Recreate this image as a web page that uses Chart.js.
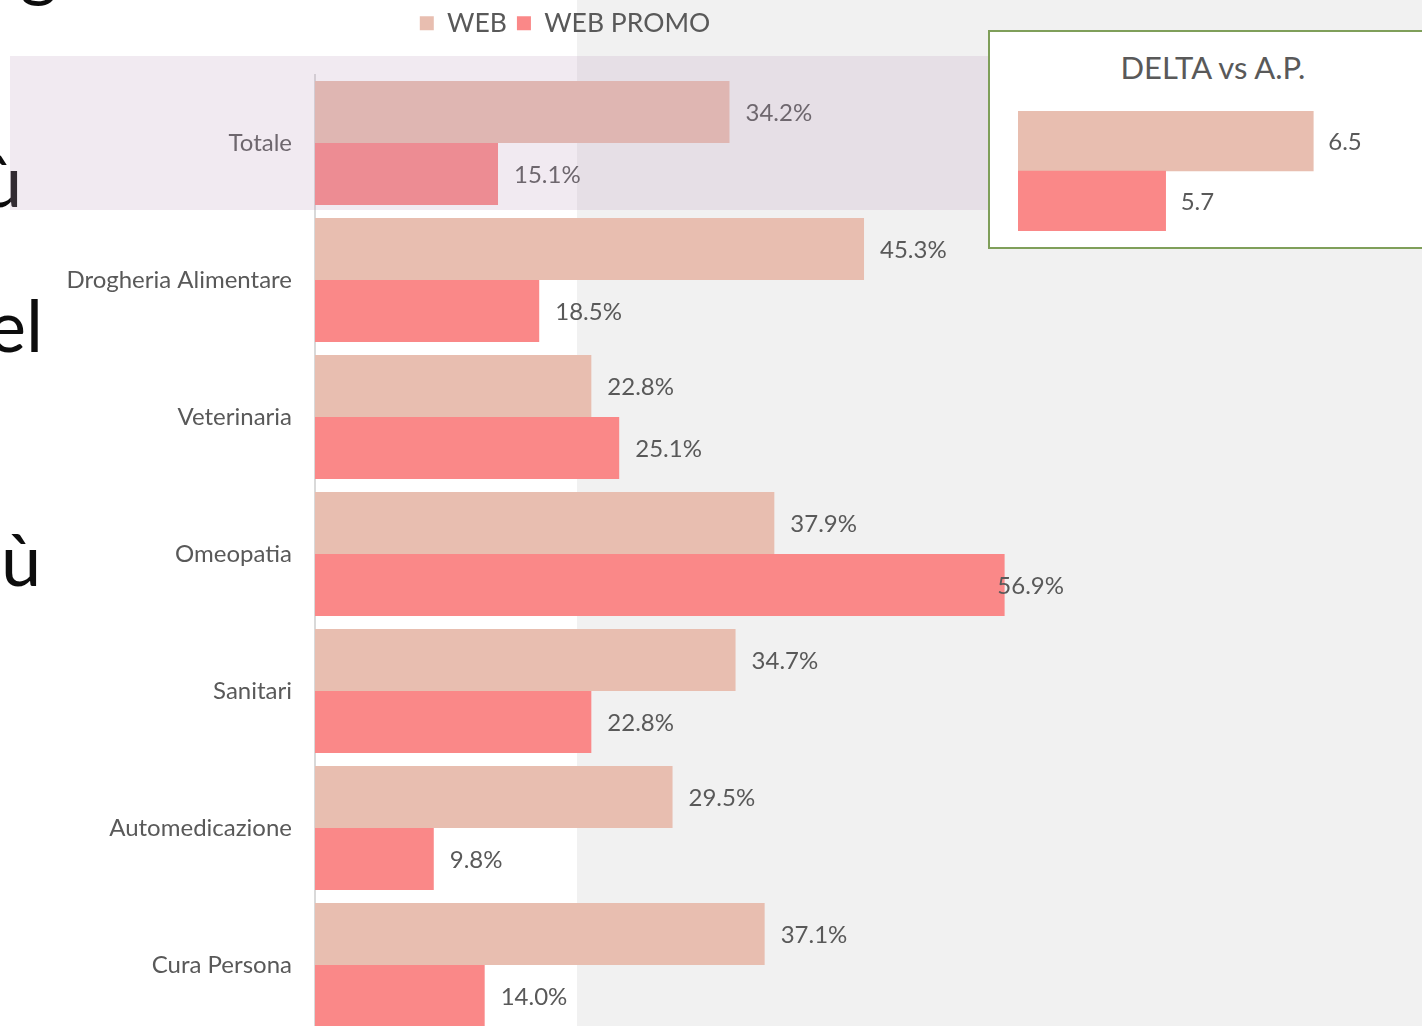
<!DOCTYPE html>
<html>
<head>
<meta charset="utf-8">
<script src="https://cdn.jsdelivr.net/npm/chart.js@4.4.1/dist/chart.umd.min.js"></script>
<style>
  html, body { margin: 0; padding: 0; }
  body { width: 1422px; height: 1026px; overflow: hidden; position: relative; background: #ffffff; font-family: Lato, sans-serif; }
  #greyPane { position: absolute; left: 577px; top: 0; width: 845px; height: 1026px; background: #f1f1f1; }
  #mainChart { position: absolute; left: 0; top: 0; }
  #totBand { position: absolute; left: 10px; top: 56px; width: 990px; height: 154px; background: rgba(188, 155, 190, 0.21); }
  #deltaBox { position: absolute; left: 988px; top: 30px; width: 440px; height: 215px; border: 2px solid #7f9f5a; background: #ffffff; }
  #deltaTitle { position: absolute; left: 0; top: 16px; width: 446px; text-align: center; font-size: 31px; color: #595959; }
  #deltaChart { position: absolute; left: 1018px; top: 111px; }
  .slideTxt { position: absolute; font-family: Lato, sans-serif; font-size: 72px; line-height: 1; color: #0d0d0d; white-space: nowrap; }
</style>
</head>
<body>
<div id="greyPane"></div>
<div class="slideTxt" style="left:20px; top:-71px;">g</div>
<div class="slideTxt" style="left:-18px; top:143px;">ù</div>
<div class="slideTxt" style="left:-12px; top:288px;">el</div>
<div class="slideTxt" style="left:1px; top:522px;">ù</div>
<canvas id="mainChart" width="1130" height="1063"></canvas>
<div id="totBand"></div>
<div id="deltaBox"><div id="deltaTitle">DELTA vs A.P.</div></div>
<canvas id="deltaChart" width="406" height="120"></canvas>

<script>
// categories and values
const categories = ['Totale', 'Drogheria Alimentare', 'Veterinaria', 'Omeopatia', 'Sanitari', 'Automedicazione', 'Cura Persona'];
const webValues = [34.2, 45.3, 22.8, 37.9, 34.7, 29.5, 37.1];
const webPromoValues = [15.1, 18.5, 25.1, 56.9, 22.8, 9.8, 14.0];
const seriesNames = ['WEB', 'WEB PROMO'];

const deltaLabels = ['WEB', 'WEB PROMO'];
const deltaValues = [6.5, 5.7];

const WEB_COLOR = '#e8beb0';
const PROMO_COLOR = '#fa8888';
const TEXT_COLOR = '#595959';

// value labels at the end of each bar (no datalabels plugin available)
const barValueLabels = {
    id: 'barValueLabels',
    afterDatasetsDraw(chart, args, opts) {
        const ctx = chart.ctx;
        const area = chart.chartArea;
        ctx.save();
        ctx.font = opts.size + 'px Lato';
        ctx.fillStyle = opts.color;
        ctx.textBaseline = 'middle';
        ctx.textAlign = 'left';
        chart.data.datasets.forEach((ds, di) => {
            const meta = chart.getDatasetMeta(di);
            meta.data.forEach((bar, i) => {
                const txt = ds.data[i].toFixed(1) + opts.suffix;
                const w = ctx.measureText(txt).width;
                let x = bar.x + opts.offset;
                if (opts.clamp) x = Math.min(x, area.right - w);
                ctx.fillText(txt, x, bar.y + 1);
            });
        });
        ctx.restore();
    }
};

// extra space between the legend and the bars
const legendGap = {
    id: 'legendGap',
    beforeInit(chart) {
        const origFit = chart.legend.fit;
        chart.legend.fit = function() {
            origFit.bind(chart.legend)();
            this.height += 28;
        };
    }
};

new Chart(document.getElementById('mainChart').getContext('2d'), {
    type: 'bar',
    data: {
        labels: categories,
        datasets: [
            { label: seriesNames[0], data: webValues, backgroundColor: WEB_COLOR, borderWidth: 0 },
            { label: seriesNames[1], data: webPromoValues, backgroundColor: PROMO_COLOR, borderWidth: 0 }
        ]
    },
    plugins: [barValueLabels, legendGap],
    options: {
        indexAxis: 'y',
        responsive: false,
        animation: false,
        categoryPercentage: 0.905,
        barPercentage: 1.0,
        layout: { padding: { left: 66, right: 66, top: 0, bottom: 0 } },
        plugins: {
            legend: {
                position: 'top',
                labels: { color: TEXT_COLOR, font: { family: 'Lato', size: 26.5 }, boxWidth: 14, boxHeight: 14, padding: 10 }
            },
            tooltip: { enabled: false },
            barValueLabels: { size: 24, color: TEXT_COLOR, offset: 16, suffix: '%', clamp: true }
        },
        scales: {
            x: { display: false, min: 0, max: 61.8 },
            y: {
                grid: { display: false },
                border: { display: true, color: '#d9d9d9', width: 2 },
                ticks: { color: TEXT_COLOR, font: { family: 'Lato', size: 24 }, padding: 15 },
                afterFit: function(scale) { scale.width = 249; }
            }
        }
    }
});

new Chart(document.getElementById('deltaChart').getContext('2d'), {
    type: 'bar',
    data: {
        labels: deltaLabels,
        datasets: [{ data: deltaValues, backgroundColor: [WEB_COLOR, PROMO_COLOR], borderWidth: 0 }]
    },
    plugins: [barValueLabels],
    options: {
        indexAxis: 'y',
        responsive: false,
        animation: false,
        categoryPercentage: 1.0,
        barPercentage: 1.0,
        layout: { padding: 0 },
        plugins: {
            legend: { display: false },
            tooltip: { enabled: false },
            barValueLabels: { size: 24, color: TEXT_COLOR, offset: 15, suffix: '', clamp: false }
        },
        scales: {
            x: { display: false, min: 4.9, max: 7.1 },
            y: { display: false }
        }
    }
});
</script>
</body>
</html>
